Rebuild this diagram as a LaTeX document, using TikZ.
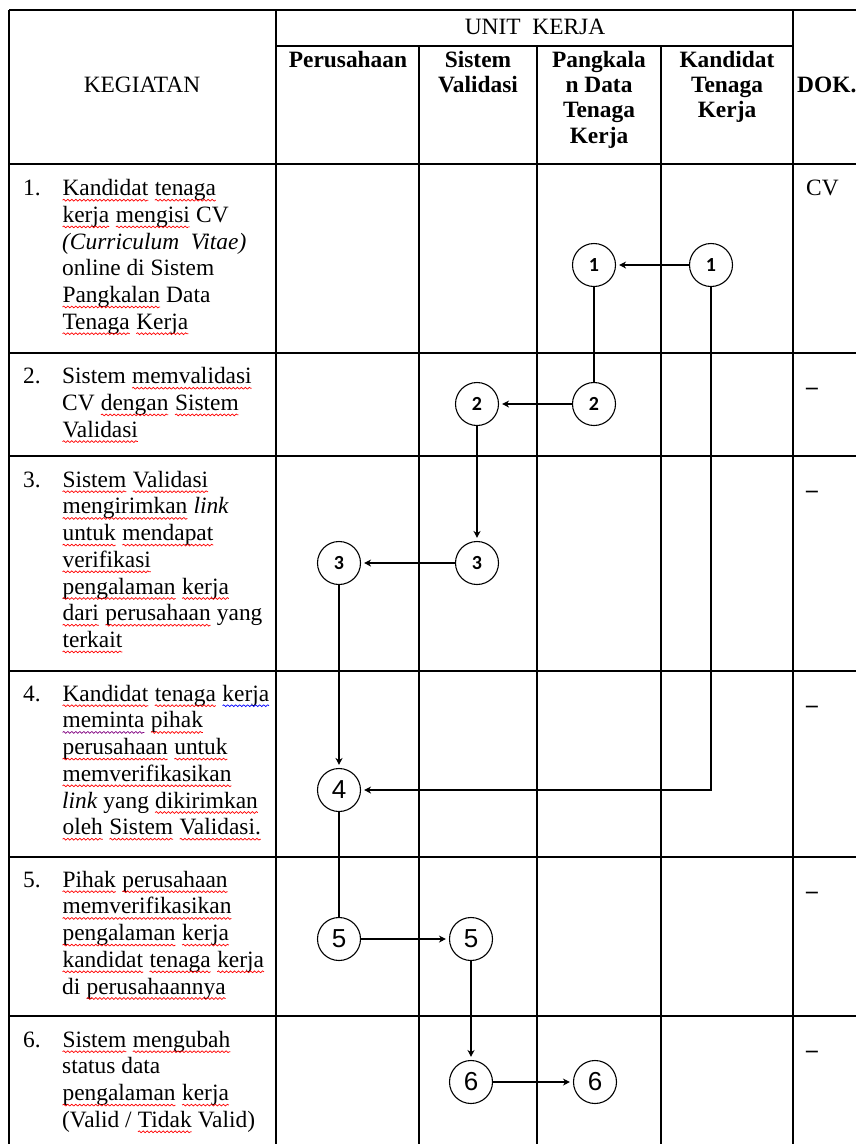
\documentclass[tikz,border=0pt]{standalone}
\usepackage{fontspec}
\setmainfont{Liberation Serif}
\newfontfamily\numsmall{Carlito}
\newfontfamily\numbig{Liberation Sans}
\usetikzlibrary{arrows.meta,decorations.pathmorphing}

\newcommand{\bodysize}{\fontsize{23.4}{26.7}\selectfont}
\newcommand{\headsize}{\fontsize{23.4}{25.3}\selectfont}
% wavy spell-check underline under one word
\newcommand{\sqg}[2][red]{\tikz[baseline=(w.base)]{\node[inner sep=0pt, outer sep=0pt] (w) {#2}; \draw[#1, line width=0.7pt, decorate, decoration={snake, amplitude=0.9pt, segment length=4pt}] ([yshift=-4.5pt]w.base west) -- ([yshift=-4.5pt]w.base east);}}

\begin{document}
\begin{tikzpicture}[x=1pt, y=-1pt,
    tbl/.style={line width=1.6pt},
    keg/.style={anchor=north west, inner sep=0pt, align=left, font=\bodysize},
    dok/.style={anchor=base west, inner sep=0pt, font=\bodysize},
    hd/.style={anchor=north, inner sep=0pt, align=center, font=\headsize\bfseries},
    stepA/.style={circle, draw, line width=1.1pt, minimum size=43pt, inner sep=0pt, font=\numsmall\bfseries\fontsize{20}{20}\selectfont},
    stepB/.style={circle, draw, line width=1.1pt, minimum size=43pt, inner sep=0pt, font=\numbig\fontsize{26}{26}\selectfont},
    arr/.style={-{Stealth[length=7pt, width=7pt]}, line width=1.1pt, shorten >=3pt},
    ln/.style={line width=1.1pt}]
  \clip (0,0) rectangle (856,1144);

  % table
  \draw[tbl] (9,10) -- (860,10);
  \draw[tbl] (276,46) -- (793,46);
  \foreach \y in {164,353,456,671,857,1016} \draw[tbl] (9,\y) -- (860,\y);
  \foreach \x in {9,276,793} \draw[tbl] (\x,10) -- (\x,1150);
  \foreach \x in {419,537,661} \draw[tbl] (\x,46) -- (\x,1150);

  % header
  \node[font=\headsize, anchor=base, inner sep=0pt] (unit) at (535,34) {UNIT\ \ KERJA};
  \node[font=\headsize, anchor=base, inner sep=0pt] (kegiatan) at (142,92) {KEGIATAN};
  \node[hd] (hprs) at (348,49.3) {\strut Perusahaan};
  \node[hd] (hsv) at (478,49.3) {\strut Sistem\\Validasi};
  \node[hd] (hpdt) at (599,49.3) {\strut Pangkala\\n Data\\Tenaga\\Kerja};
  \node[hd] (hktk) at (727,49.3) {\strut Kandidat\\Tenaga\\Kerja};
  \node[hd, anchor=base west] (hdok) at (797,92) {DOK.};

  % kegiatan
  \node[keg] (n1) at (23,176.8) {\strut 1.};
  \node[keg] (t1) at (62,176.8) {\strut\sqg{Kandidat} \sqg{tenaga}\\ \sqg{kerja} \sqg{mengisi} CV\\ \textit{(Curriculum\ \ Vitae)}\\ online di Sistem\\ \sqg{Pangkalan} Data\\ \sqg{Tenaga} \sqg{Kerja}};
  \node[keg] (n2) at (23,364.8) {\strut 2.};
  \node[keg] (t2) at (62,364.8) {\strut Sistem \sqg{memvalidasi}\\ CV \sqg{dengan} \sqg{Sistem}\\ \sqg{Validasi}};
  \node[keg] (n3) at (23,468.3) {\strut 3.};
  \node[keg] (t3) at (62,468.3) {\strut\sqg{Sistem} \sqg{Validasi}\\ \sqg{mengirimkan} \textit{link}\\ \sqg{untuk} \sqg{mendapat}\\ \sqg{verifikasi}\\ \sqg{pengalaman} \sqg{kerja}\\ \sqg{dari} \sqg{perusahaan} yang\\ \sqg{terkait}};
  \node[keg] (n4) at (23,682.3) {\strut 4.};
  \node[keg] (t4) at (62,682.3) {\strut\sqg{Kandidat} \sqg{tenaga} \sqg[blue]{kerja}\\ \sqg[violet]{meminta} \sqg{pihak}\\ \sqg{perusahaan} \sqg{untuk}\\ \sqg{memverifikasikan}\\ \textit{link} yang \sqg{dikirimkan}\\ \sqg{oleh} \sqg{Sistem} \sqg{Validasi.}};
  \node[keg] (n5) at (23,868.3) {\strut 5.};
  \node[keg] (t5) at (62,868.3) {\strut\sqg{Pihak} \sqg{perusahaan}\\ \sqg{memverifikasikan}\\ \sqg{pengalaman} \sqg{kerja}\\ \sqg{kandidat} \sqg{tenaga} \sqg{kerja}\\ di \sqg{perusahaannya}};
  \node[keg] (n6) at (23,1028.3) {\strut 6.};
  \node[keg] (t6) at (62,1028.3) {\strut\sqg{Sistem} \sqg{mengubah}\\ status data\\ \sqg{pengalaman} \sqg{kerja}\\ (Valid / \sqg{Tidak} Valid)};

  % dok
  \node[dok] (d1) at (806,195.5) {CV};
  \node[dok] (d2) at (806,394) {\bfseries --};
  \node[dok] (d3) at (806,497) {\bfseries --};
  \node[dok] (d4) at (806,712) {\bfseries --};
  \node[dok] (d5) at (806,898) {\bfseries --};
  \node[dok] (d6) at (806,1057) {\bfseries --};

  % alur
  \node[stepA] (ktk1) at (711,265) {1};
  \node[stepA] (pdt1) at (594,265) {1};
  \node[stepA] (pdt2) at (594,404) {2};
  \node[stepA] (sv2) at (477,404) {2};
  \node[stepA] (sv3) at (477,563) {3};
  \node[stepA] (prs3) at (339,563) {3};
  \node[stepB] (prs4) at (339,790) {4};
  \node[stepB] (prs5) at (339,939) {5};
  \node[stepB] (sv5) at (471,939) {5};
  \node[stepB] (sv6) at (471,1082) {6};
  \node[stepB] (pdt6) at (595,1082) {6};

  \draw[arr] (ktk1) -- (pdt1);
  \draw[ln] (pdt1) -- (pdt2);
  \draw[arr] (pdt2) -- (sv2);
  \draw[arr] (sv2) -- (sv3);
  \draw[arr] (sv3) -- (prs3);
  \draw[arr] (prs3) -- (prs4);
  \draw[arr] (ktk1) |- (prs4);
  \draw[ln] (prs4) -- (prs5);
  \draw[arr] (prs5) -- (sv5);
  \draw[arr] (sv5) -- (sv6);
  \draw[arr] (sv6) -- (pdt6);
\end{tikzpicture}
\end{document}
